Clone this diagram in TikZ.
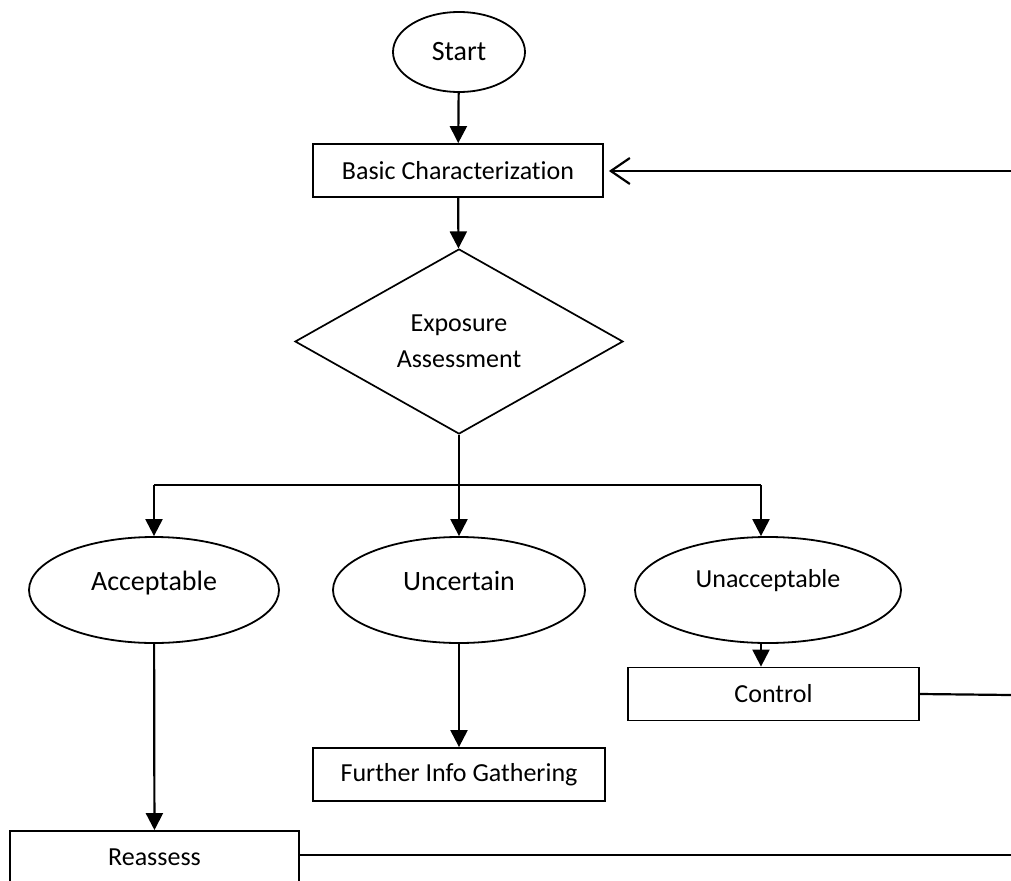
\documentclass[tikz,border=0pt]{standalone}
\usepackage{fontspec}
\setmainfont{Carlito}[Ligatures=NoCommon]
\usetikzlibrary{shapes.geometric,arrows.meta,calc}
\begin{document}
\begin{tikzpicture}[x=1pt,y=-1pt,
  boxnode/.style={draw, line width=1.8pt, rectangle, minimum height=53pt, inner sep=0pt,
    font=\fontsize{26}{30}\selectfont},
  oval/.style={draw, line width=1.8pt, ellipse, minimum height=106pt, inner sep=0pt,
    text height=9pt, text depth=9pt, font=\fontsize{28}{32}\selectfont},
  startnode/.style={draw, line width=1.8pt, ellipse, minimum width=132pt, minimum height=80pt,
    inner sep=0pt, font=\fontsize{28}{32}\selectfont},
  decision/.style={draw, line width=1.7pt, diamond, minimum width=328pt, minimum height=185pt,
    inner sep=0pt, align=center, font=\fontsize{26}{36}\selectfont},
  flow/.style={line width=2.2pt, -{Triangle[length=17pt, width=17pt]}},
  plain/.style={line width=2.2pt},
  thinline/.style={line width=1.3pt}
]
\useasboundingbox (0,0) rectangle (1011,880);

% nodes
\node[startnode] (start) at (459,52) {Start};
\node[boxnode, minimum width=290pt] (basic) at (458,170.5) {Basic Characterization};
\node[decision] (expo) at (459,341.5) {Exposure\\Assessment};
\coordinate (split) at (459,485);
\coordinate (jL) at (154,485);
\coordinate (jR) at (761,485);
\node[oval, minimum width=250pt] (acc) at (154,590) {Acceptable};
\node[oval, minimum width=252pt] (unc) at (459,590) {Uncertain};
\node[oval, minimum width=266pt, font=\fontsize{26}{30}\selectfont, text height=6pt, text depth=12pt] (unacc) at (768,590) {Unacceptable};
\node[boxnode, minimum width=291pt] (control) at (773.5,694) {Control};
\node[boxnode, minimum width=292pt] (further) at (459,774.5) {Further Info Gathering};
\node[boxnode, minimum width=289pt] (reassess) at (154.5,857.5) {Reassess};
\coordinate (fbTop) at (1011,171);
\coordinate (fbMid) at (1011,695);
\coordinate (fbBot) at (1011,855);

% connectors
\draw[flow] (start) -- (basic);
\draw[flow] (basic) -- (expo);
\draw[thinline] (expo.south) -- (split);
\draw[plain] (jL) -- (jR);
\draw[flow] (jL) -- (acc.north);
\draw[flow] (split) -- (unc.north);
\draw[flow] (jR) -- (jR |- unacc.north);
\draw[flow] (acc) -- (reassess);
\draw[flow] (unc) -- (further);
\draw[flow] (jR |- unacc.south) -- (jR |- control.north);
\draw[plain] (control.east) -- (fbMid);
\draw[plain] (reassess.east |- fbBot) -- (fbBot);
\draw[plain, -{Straight Barb[length=19pt, width=26pt, line width=2.2pt]}, shorten >=5pt] (fbTop) -- (basic.east |- fbTop);
\end{tikzpicture}
\end{document}
